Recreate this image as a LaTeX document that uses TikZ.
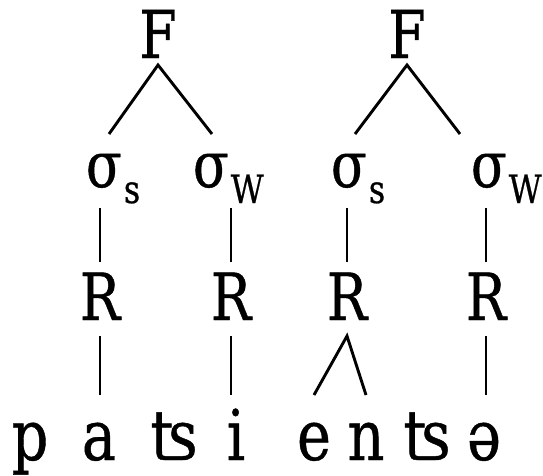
\documentclass[tikz,border=0pt]{standalone}
\usepackage{fontspec}
\setmainfont[FakeStretch=0.82, FakeBold=0.6]{DejaVu Serif}
\newcommand\sylsub[1]{\kern2pt\raisebox{-16pt}{\fontsize{39}{42}\selectfont #1}}

\begin{document}
\begin{tikzpicture}[
  x=1pt, y=-1pt,
  every node/.style={inner sep=0pt, outer xsep=0pt, anchor=base},
  foot/.style={font=\fontsize{66}{70}\selectfont, text height=48pt, text depth=0pt, outer ysep=7pt},
  syl/.style={font=\fontsize{64}{70}\selectfont, text height=32pt, text depth=0pt, outer ysep=21pt, anchor=base west},
  rime/.style={font=\fontsize{65}{70}\selectfont, text height=47pt, text depth=5pt, outer ysep=11pt},
  seg/.style={font=\fontsize{70}{75}\selectfont, text height=37pt, text depth=0pt, outer ysep=28pt},
  branch/.style={line width=2.9pt, line join=miter}
]
  \useasboundingbox (0,0) rectangle (543,475);

  \node[foot] (F1) at (158,58) {F};
  \node[foot] (F2) at (407,58) {F};

  \node[syl] (S1) at (86,187) {σ\sylsub{s}};
  \node[syl] (W1) at (193,187) {σ\sylsub{W}};
  \node[syl] (S2) at (331,187) {σ\sylsub{s}};
  \node[syl] (W2) at (471,187) {σ\sylsub{W}};

  \node[rime] (R1) at (100,320) {R};
  \node[rime] (R2) at (231,320) {R};
  \node[rime] (R3) at (347,320) {R};
  \node[rime] (R4) at (486,320) {R};

  \node[seg] (p) at (30,460) {p};
  \node[seg] (a) at (99,460) {a};
  \node[seg] (ts1) at (174,460) {ʦ};
  \node[seg] (i) at (236,460) {i};
  \node[seg] (e) at (314,460) {e};
  \node[seg] (n) at (366,460) {n};
  \node[seg] (ts2) at (427,460) {ʦ};
  \node[seg] (schwa) at (484,460) {ə};

  \draw[branch] ([xshift=23pt]S1.north west) -- (F1.south) -- ([xshift=19pt]W1.north west);
  \draw[branch] ([xshift=24pt]S2.north west) -- (F2.south) -- ([xshift=-11pt]W2.north west);

  \draw[branch] (R1.north) -- (R1.north |- S1.south);
  \draw[branch] (R2.north) -- (R2.north |- W1.south);
  \draw[branch] (R3.north) -- (R3.north |- S2.south);
  \draw[branch] (R4.north) -- (R4.north |- W2.south);

  \draw[branch] (R1.south) -- (R1.south |- a.north);
  \draw[branch] (R2.south) -- (R2.south |- i.north);
  \draw[branch] (e.north) -- (R3.south) -- (n.north);
  \draw[branch] (R4.south) -- (R4.south |- schwa.north);
\end{tikzpicture}
\end{document}
